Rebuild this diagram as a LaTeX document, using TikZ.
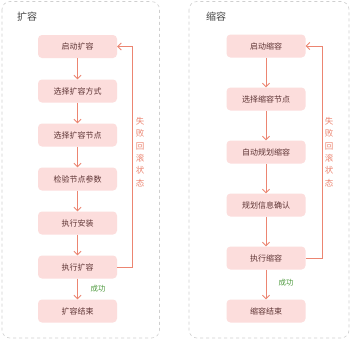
\documentclass[tikz,border=0pt]{standalone}
\usepackage{fontspec}
\setmainfont{Noto Sans CJK SC}
\usetikzlibrary{arrows.meta}
\definecolor{boxfill}{HTML}{FCDDDC}
\definecolor{boxtext}{HTML}{5E3434}
\definecolor{arr}{HTML}{EC8571}
\definecolor{okgreen}{HTML}{4E9A3E}
\definecolor{frame}{HTML}{CFCFCF}
\definecolor{titlec}{HTML}{444444}
\tikzset{
  stepbox/.style={draw=none, fill=boxfill, rounded corners=4pt, minimum width=79pt, minimum height=23pt, inner sep=0pt, text=boxtext, font=\fontsize{8}{9}\selectfont},
  flow/.style={draw=arr, line width=0.9pt, -{Straight Barb[length=3.5pt,width=7pt]}},
  panel/.style={draw=frame, dashed, line width=0.6pt, rounded corners=8pt},
  ttl/.style={text=titlec, font=\fontsize{10}{11}\selectfont, inner sep=0pt},
  vlab/.style={text=arr, font=\fontsize{8.5}{12.4}\selectfont, align=center, inner sep=0pt},
  oklab/.style={text=okgreen, font=\fontsize{7.5}{8}\selectfont, inner sep=0pt}
}
\begin{document}
\begin{tikzpicture}[x=1pt,y=-1pt]
\useasboundingbox (0,0) rectangle (352,341);
\fill[white] (0,0) rectangle (352,341);
% panels
\draw[panel] (2,1.5) rectangle (159.5,338);
\draw[panel] (189,1.5) rectangle (349,338);
\node[ttl, anchor=west] (t1) at (17,16.5) {扩容};
\node[ttl, anchor=west] (t2) at (206,16.5) {缩容};
% left column
\node[stepbox] (a1) at (77.5,46.5) {启动扩容};
\node[stepbox] (a2) at (77.5,91) {选择扩容方式};
\node[stepbox] (a3) at (77.5,135) {选择扩容节点};
\node[stepbox] (a4) at (77.5,179) {检验节点参数};
\node[stepbox] (a5) at (77.5,223) {执行安装};
\node[stepbox] (a6) at (77.5,267) {执行扩容};
\node[stepbox] (a7) at (77.5,311) {扩容结束};
\draw[flow] (a1) -- (a2);
\draw[flow] (a2) -- (a3);
\draw[flow] (a3) -- (a4);
\draw[flow] (a4) -- (a5);
\draw[flow] (a5) -- (a6);
\draw[flow] (a6) -- (a7);
\coordinate (lb) at (132.5,0);
\draw[flow] (a6.east) -| (lb |- a1.east) -- (a1.east);
\node[vlab] (l1) at (140,152) {失\\败\\回\\滚\\状\\态};
\node[oklab] (ok1) at (98,288.5) {成功};
% right column
\node[stepbox] (b1) at (266,46) {启动缩容};
\node[stepbox] (b2) at (266,99) {选择缩容节点};
\node[stepbox] (b3) at (266,152) {自动规划缩容};
\node[stepbox] (b4) at (266,205) {规划信息确认};
\node[stepbox] (b5) at (266,258) {执行缩容};
\node[stepbox] (b6) at (266,311) {缩容结束};
\draw[flow] (b1) -- (b2);
\draw[flow] (b2) -- (b3);
\draw[flow] (b3) -- (b4);
\draw[flow] (b4) -- (b5);
\draw[flow] (b5) -- (b6);
\coordinate (rb) at (322,0);
\draw[flow] (b5.east) -| (rb |- b1.east) -- (b1.east);
\node[vlab] (l2) at (329,152) {失\\败\\回\\滚\\状\\态};
\node[oklab] (ok2) at (286,283) {成功};
\end{tikzpicture}
\end{document}
